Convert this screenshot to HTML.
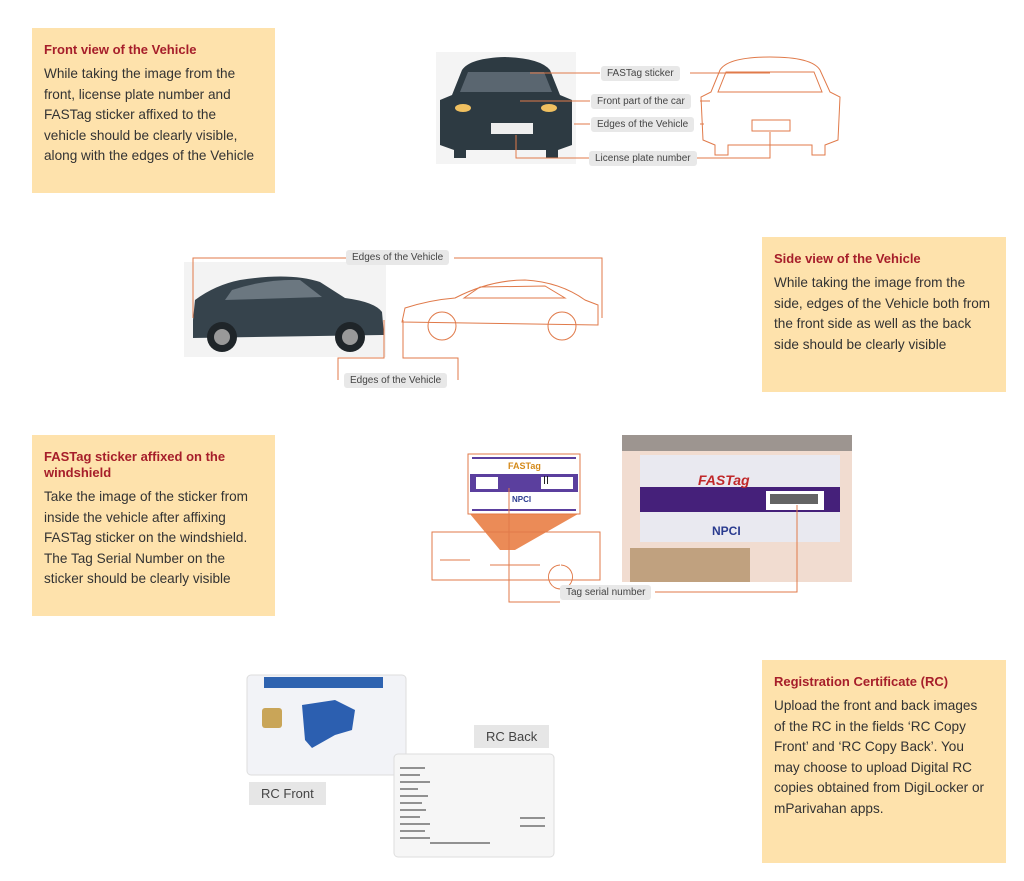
<!DOCTYPE html>
<html><head><meta charset="utf-8"><style>
body{margin:0;width:1024px;height:881px;background:#fff;position:relative;overflow:hidden;font-family:"Liberation Sans",sans-serif}
.box{position:absolute;background:#fee2ac;padding:14px 12px;box-sizing:border-box}
.box h3{margin:0 0 6px;color:#a61e2a;font-size:13px;font-weight:bold;line-height:16px}
.box p{margin:0;color:#333;font-size:13.6px;line-height:20.6px;white-space:nowrap}
.lbl{position:absolute;background:#e8e8e8;color:#444;font-size:10px;padding:2px 6px;border-radius:3px;white-space:nowrap}
.big{font-size:13px;padding:4px 12px;color:#444;background:#e6e6e6;position:absolute}
svg{position:absolute;left:0;top:0}
</style></head><body>
<div class="box" style="left:32px;top:28px;width:243px;height:165px"><h3>Front view of the Vehicle</h3><p>While taking the image from the<br>front, license plate number and<br>FASTag sticker affixed to the<br>vehicle should be clearly visible,<br>along with the edges of the Vehicle</p></div>
<div class="box" style="left:762px;top:237px;width:244px;height:155px"><h3>Side view of the Vehicle</h3><p>While taking the image from the<br>side, edges of the Vehicle both from<br>the front side as well as the back<br>side should be clearly visible</p></div>
<div class="box" style="left:32px;top:435px;width:243px;height:181px"><h3>FASTag sticker affixed on the<br>windshield</h3><p>Take the image of the sticker from<br>inside the vehicle after affixing<br>FASTag sticker on the windshield.<br>The Tag Serial Number on the<br>sticker should be clearly visible</p></div>
<div class="box" style="left:762px;top:660px;width:244px;height:203px"><h3>Registration Certificate (RC)</h3><p>Upload the front and back images<br>of the RC in the fields ‘RC Copy<br>Front’ and ‘RC Copy Back’. You<br>may choose to upload Digital RC<br>copies obtained from DigiLocker or<br>mParivahan apps.</p></div>

<svg width="1024" height="881" fill="none" stroke="#e07a4a" stroke-width="1">
<rect x="436" y="52" width="140" height="112" fill="#f4f4f4" stroke="none"/>
<path d="M462 70 Q470 58 505 57 Q540 58 550 70 L560 95 L572 100 L572 145 L558 150 L558 158 L546 158 L546 150 L466 150 L466 158 L454 158 L454 150 L440 145 L440 100 L452 95 Z" fill="#2d3a42" stroke="none"/>
<path d="M468 72 L544 72 L552 92 L460 92 Z" fill="#5a6670" stroke="none"/>
<rect x="491" y="123" width="42" height="11" fill="#eee" stroke="none"/>
<ellipse cx="463" cy="108" rx="8" ry="4" fill="#f0c060" stroke="none"/>
<ellipse cx="549" cy="108" rx="8" ry="4" fill="#f0c060" stroke="none"/>
<path d="M720 70 Q728 57 770 57 Q812 57 820 70 L830 92 L840 97 L838 140 L825 145 L825 155 L812 155 L812 145 L728 145 L728 155 L715 155 L715 145 L703 140 L701 97 L711 92 Z"/>
<path d="M726 72 L814 72 L822 92 L718 92 Z"/>
<rect x="752" y="120" width="38" height="11"/>
<path d="M530 73 L600 73 M520 101 L590 101 M574 124 L590 124 M516 135 L516 158 L590 158 M690 73 L770 73 M700 101 L710 101 M700 124 L704 124 M695 158 L770 158 L770 132"/>
<rect x="184" y="262" width="202" height="95" fill="#f3f3f3" stroke="none"/>
<path d="M193 320 L195 300 Q215 285 240 280 Q290 272 320 282 L345 298 Q375 302 382 312 L384 335 L193 338 Z" fill="#36434c" stroke="none"/>
<path d="M232 290 Q265 279 300 280 L322 297 L225 300 Z" fill="#6b7780" stroke="none"/>
<circle cx="222" cy="337" r="15" fill="#1f2529" stroke="none"/><circle cx="222" cy="337" r="8" fill="#999" stroke="none"/>
<circle cx="350" cy="337" r="15" fill="#1f2529" stroke="none"/><circle cx="350" cy="337" r="8" fill="#999" stroke="none"/>
<path d="M402 322 L405 308 Q430 300 455 298 Q490 280 525 280 Q560 282 585 300 L598 305 L598 325 Z"/>
<circle cx="442" cy="326" r="14"/><circle cx="562" cy="326" r="14"/>
<path d="M464 298 L480 287 L545 286 L565 298 Z"/>
<path d="M193 318 L193 258 L346 258 M454 258 L602 258 L602 318 M384 320 L384 358 L338 358 L338 380 M458 380 L458 358 L403 358 L403 320"/>
<rect x="468" y="454" width="112" height="60" fill="#fff"/>
<line x1="472" y1="458" x2="576" y2="458" stroke="#5b3f9e" stroke-width="2"/>
<rect x="470" y="474" width="108" height="18" fill="#5b3f9e" stroke="none"/>
<rect x="476" y="477" width="22" height="12" fill="#fff" stroke="none"/>
<rect x="541" y="477" width="32" height="12" fill="#fff" stroke="none"/>
<path d="M544 480h1M547 480h1" stroke="#222" stroke-width="8"/>
<line x1="472" y1="510" x2="576" y2="510" stroke="#5b3f9e" stroke-width="2"/>
<text x="508" y="469" font-size="9" font-weight="bold" fill="#d48a1a" stroke="none" font-family="Liberation Sans">FASTag</text>
<text x="512" y="502" font-size="8" font-weight="bold" fill="#2a3b8f" stroke="none" font-family="Liberation Sans">NPCI</text>
<path d="M470 514 L578 514 L515 550 L500 550 Z" fill="#e7773a" stroke="none" opacity="0.85"/>
<path d="M432 532 L600 532 L600 580 L432 580 Z M440 560 L470 560 M490 565 L540 565 M560 565 a12 12 0 1 0 1 0"/>
<rect x="622" y="435" width="230" height="147" fill="#f1dcd0" stroke="none"/>
<rect x="622" y="435" width="230" height="16" fill="#666" stroke="none" opacity="0.6"/>
<rect x="640" y="455" width="200" height="87" fill="#e9e9f0" stroke="none"/>
<rect x="640" y="487" width="200" height="25" fill="#45207a" stroke="none"/>
<rect x="766" y="491" width="58" height="19" fill="#fff" stroke="none"/>
<rect x="770" y="494" width="48" height="10" fill="#222" stroke="none" opacity="0.7"/>
<text x="698" y="485" font-size="14" font-weight="bold" fill="#c0282a" stroke="none" font-style="italic" font-family="Liberation Sans">FASTag</text>
<text x="712" y="535" font-size="12" font-weight="bold" fill="#2a3b8f" stroke="none" font-family="Liberation Sans">NPCI</text>
<rect x="630" y="548" width="120" height="34" fill="#a07a4a" stroke="none" opacity="0.6"/>
<path d="M509 488 L509 602 L560 602 M655 592 L797 592 L797 505"/>
<rect x="247" y="675" width="159" height="100" rx="4" fill="#f2f3f7" stroke="#ddd"/>
<rect x="264" y="677" width="119" height="11" fill="#2f63b0" stroke="none"/>
<rect x="262" y="708" width="20" height="20" rx="3" fill="#c9a558" stroke="none"/>
<path d="M302 705 L335 700 L355 710 L352 730 L335 735 L312 748 L305 740 Z" fill="#2c5fb0" stroke="none"/>
<rect x="394" y="754" width="160" height="103" rx="4" fill="#f6f6f6" stroke="#ddd"/>
<g stroke="#555" stroke-width="1.2"><path d="M400 768h25M400 775h20M400 782h30M400 789h18M400 796h28M400 803h22M400 810h26M400 817h20M400 824h30M400 831h25M400 838h30M430 843h60M520 818h25M520 826h25"/></g>
</svg>
<div class="lbl" style="left:601px;top:66px">FASTag sticker</div>
<div class="lbl" style="left:591px;top:94px">Front part of the car</div>
<div class="lbl" style="left:591px;top:117px">Edges of the Vehicle</div>
<div class="lbl" style="left:589px;top:151px">License plate number</div>
<div class="lbl" style="left:346px;top:250px">Edges of the Vehicle</div>
<div class="lbl" style="left:344px;top:373px">Edges of the Vehicle</div>
<div class="lbl" style="left:560px;top:585px">Tag serial number</div>
<div class="big" style="left:474px;top:725px">RC Back</div>
<div class="big" style="left:249px;top:782px">RC Front</div>
</body></html>
